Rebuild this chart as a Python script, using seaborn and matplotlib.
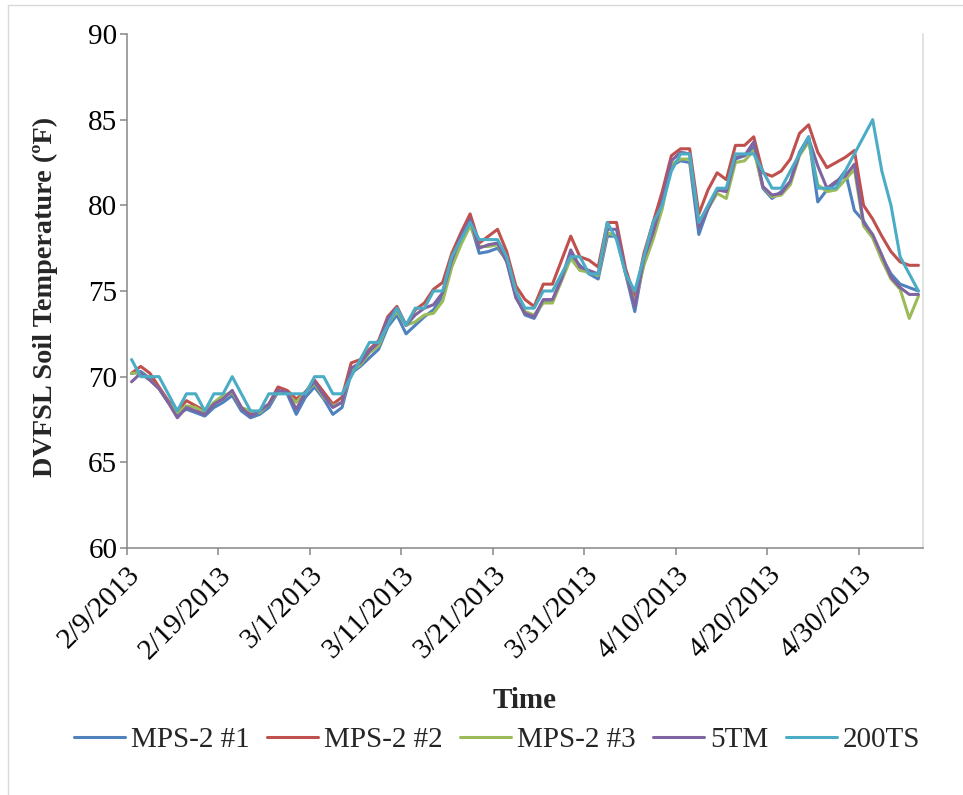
import matplotlib
matplotlib.use("Agg")
import matplotlib.pyplot as plt
import matplotlib.dates as mdates
from matplotlib.lines import Line2D
import pandas as pd
import seaborn as sns

# Daily soil temperature readings (ºF), 2/9/2013 - 5/6/2013
start_date = "2013-02-09"
n_days = 87

mps2_1 = [70.2, 70.3, 69.9, 69.3, 68.5, 67.8, 68.1, 67.9, 67.7, 68.2,
          68.5, 68.9, 68.0, 67.6, 67.8, 68.2, 69.1, 69.0, 67.8, 68.8,
          69.4, 68.7, 67.8, 68.2, 70.2, 70.6, 71.1, 71.6, 72.9, 73.6,
          72.5, 73.0, 73.5, 73.9, 74.7, 76.7, 78.0, 79.0, 77.2, 77.3,
          77.5, 76.8, 74.7, 73.6, 73.4, 74.4, 74.4, 75.8, 77.1, 76.5,
          76.0, 75.7, 78.2, 78.2, 76.0, 73.8, 76.8, 78.4, 80.3, 82.3,
          82.6, 82.5, 78.3, 79.8, 80.9, 80.9, 82.7, 82.9, 83.4, 81.0,
          80.4, 80.8, 81.4, 83.1, 84.0, 80.2, 80.9, 81.3, 82.0, 79.7,
          79.1, 78.2, 77.0, 76.0, 75.4, 75.2, 75.0]

mps2_2 = [70.2, 70.6, 70.2, 69.4, 68.6, 68.0, 68.6, 68.3, 68.0, 68.4,
          68.8, 69.1, 68.2, 67.8, 68.0, 68.4, 69.4, 69.2, 68.7, 69.1,
          69.8, 69.1, 68.4, 68.8, 70.8, 71.0, 71.6, 72.1, 73.5, 74.1,
          73.0, 73.9, 74.3, 75.1, 75.5, 77.2, 78.4, 79.5, 77.8, 78.2,
          78.6, 77.3, 75.3, 74.5, 74.1, 75.4, 75.4, 76.8, 78.2, 77.0,
          76.8, 76.4, 79.0, 79.0, 76.3, 74.6, 77.2, 79.0, 80.8, 82.9,
          83.3, 83.3, 79.5, 80.9, 81.9, 81.5, 83.5, 83.5, 84.0, 81.9,
          81.7, 82.0, 82.7, 84.2, 84.7, 83.1, 82.2, 82.5, 82.8, 83.2,
          80.0, 79.2, 78.2, 77.3, 76.7, 76.5, 76.5]

mps2_3 = [70.2, 70.2, 69.8, 69.3, 68.5, 67.9, 68.3, 68.2, 67.9, 68.5,
          68.9, 69.1, 68.2, 68.0, 67.9, 68.4, 69.1, 69.0, 68.5, 69.1,
          69.6, 68.8, 68.3, 68.5, 70.3, 70.7, 71.4, 71.8, 73.1, 73.8,
          73.0, 73.2, 73.6, 73.7, 74.4, 76.4, 77.7, 78.8, 77.6, 77.6,
          77.7, 76.7, 75.0, 73.8, 73.6, 74.3, 74.3, 75.6, 76.9, 76.2,
          76.1, 75.9, 78.4, 78.2, 76.0, 74.3, 76.5, 78.0, 79.8, 82.4,
          82.7, 82.7, 79.0, 79.8, 80.7, 80.4, 82.5, 82.6, 83.2, 81.1,
          80.5, 80.6, 81.2, 82.9, 83.7, 81.2, 80.8, 80.9, 81.5, 82.1,
          78.8, 78.1, 76.8, 75.7, 75.1, 73.4, 74.7]

tm5 = [69.7, 70.2, 69.8, 69.3, 68.5, 67.6, 68.2, 68.0, 67.8, 68.4,
       68.7, 69.2, 68.2, 67.7, 68.0, 68.4, 69.2, 69.1, 68.1, 69.1,
       69.7, 68.9, 68.2, 68.5, 70.5, 70.8, 71.5, 72.0, 73.4, 74.0,
       73.0, 73.6, 74.0, 74.2, 74.9, 76.8, 78.2, 79.2, 77.5, 77.7,
       77.8, 76.7, 74.6, 73.7, 73.5, 74.5, 74.5, 75.7, 77.4, 76.4,
       76.2, 76.0, 78.6, 78.6, 76.1, 74.1, 76.9, 78.4, 80.3, 82.6,
       83.1, 83.0, 78.7, 79.8, 80.9, 80.8, 82.8, 82.9, 83.7, 81.1,
       80.6, 80.7, 81.4, 83.0, 83.9, 82.3, 81.0, 81.4, 81.7, 82.4,
       79.0, 78.3, 77.1, 75.8, 75.2, 74.8, 74.8]

ts200 = [71, 70, 70, 70, 69, 68, 69, 69, 68, 69,
         69, 70, 69, 68, 68, 69, 69, 69, 69, 69,
         70, 70, 69, 69, 70, 71, 72, 72, 73, 74,
         73, 74, 74, 75, 75, 77, 78, 79, 78, 78,
         78, 77, 75, 74, 74, 75, 75, 76, 77, 77,
         76, 76, 79, 78, 76, 75, 77, 79, 80, 82,
         83, 83, 79, 80, 81, 81, 83, 83, 83, 82,
         81, 81, 82, 83, 84, 81, 81, 81, 82, 83,
         84, 85, 82, 80, 77, 76, 75]

sensor_names = ["MPS-2 #1", "MPS-2 #2", "MPS-2 #3", "5TM", "200TS"]
sensor_colors = ["#4F81BD", "#C0504D", "#9BBB59", "#8064A2", "#4BACC6"]
y_ticks = [60, 65, 70, 75, 80, 85, 90]
tick_step_days = 10

# Readings are daily averages, plotted at mid-day
dates = pd.date_range(start_date + " 12:00", periods=n_days, freq="D")
wide = pd.DataFrame({"Date": dates,
                     sensor_names[0]: mps2_1,
                     sensor_names[1]: mps2_2,
                     sensor_names[2]: mps2_3,
                     sensor_names[3]: tm5,
                     sensor_names[4]: ts200})
long = wide.melt(id_vars="Date", var_name="Sensor", value_name="Temp")

sns.set_theme(style="white")
plt.rcParams["font.family"] = ["Liberation Serif", "DejaVu Serif"]

W, H = 963, 795
fig = plt.figure(figsize=(W / 100, H / 100), dpi=100)
left, right, top, bottom = 127, 923, 34, 548
ax = fig.add_axes([left / W, 1 - bottom / H, (right - left) / W, (bottom - top) / H])

sns.lineplot(data=long, x="Date", y="Temp", hue="Sensor",
             hue_order=sensor_names, palette=sensor_colors,
             linewidth=2.2, ax=ax, legend=False)

# Axes ranges and ticks
day0 = pd.Timestamp(start_date)
ax.set_xlim(mdates.date2num(day0), mdates.date2num(day0 + pd.Timedelta(days=n_days)))
ax.set_ylim(y_ticks[0], y_ticks[-1])
ax.set_yticks(y_ticks)
tick_dates = [day0 + pd.Timedelta(days=tick_step_days * k) for k in range(9)]
ax.set_xticks([mdates.date2num(t) for t in tick_dates])
ax.set_xticklabels([f"{t.month}/{t.day}/{t.year}" for t in tick_dates],
                   rotation=45, ha="right", rotation_mode="anchor")
ax.set_xlabel("")
ax.set_ylabel("")

ax.tick_params(axis="both", which="major", direction="out", length=5, width=1.1,
               color="#868686", labelsize=21, labelcolor="black",
               bottom=True, left=True)
ax.tick_params(axis="y", pad=2)
ax.tick_params(axis="x", pad=5)

ax.spines["top"].set_visible(False)
for side in ("left", "bottom"):
    ax.spines[side].set_color("#868686")
    ax.spines[side].set_linewidth(1.1)
ax.spines["right"].set_color("#D9D9D9")
ax.spines["right"].set_linewidth(1.1)
ax.grid(False)

# Axis titles
fig.text(45 / W, 1 - 297 / H, "DVFSL Soil Temperature (ºF)", rotation=90,
         ha="center", va="center", fontsize=20.3, fontweight="bold")
fig.text(525 / W, 1 - 700 / H, "Time", ha="center", va="center",
         fontsize=21, fontweight="bold")

# Legend below the axis title
handles = [Line2D([0], [0], color=c, lw=2.2) for c in sensor_colors]
fig.legend(handles, sensor_names, loc="center",
           bbox_to_anchor=(497 / W, 1 - 740 / H), ncol=5, frameon=False,
           fontsize=21, handlelength=1.75, handletextpad=0.2,
           columnspacing=0.6, borderpad=0)

# Chart outline
fig.add_artist(Line2D([8 / W, 8 / W], [0, 1 - 5 / H], transform=fig.transFigure,
                      color="#D9D9D9", lw=1))
fig.add_artist(Line2D([8 / W, 1], [1 - 5 / H, 1 - 5 / H], transform=fig.transFigure,
                      color="#D9D9D9", lw=1))

fig.savefig("out.png", dpi=100, facecolor="white")
